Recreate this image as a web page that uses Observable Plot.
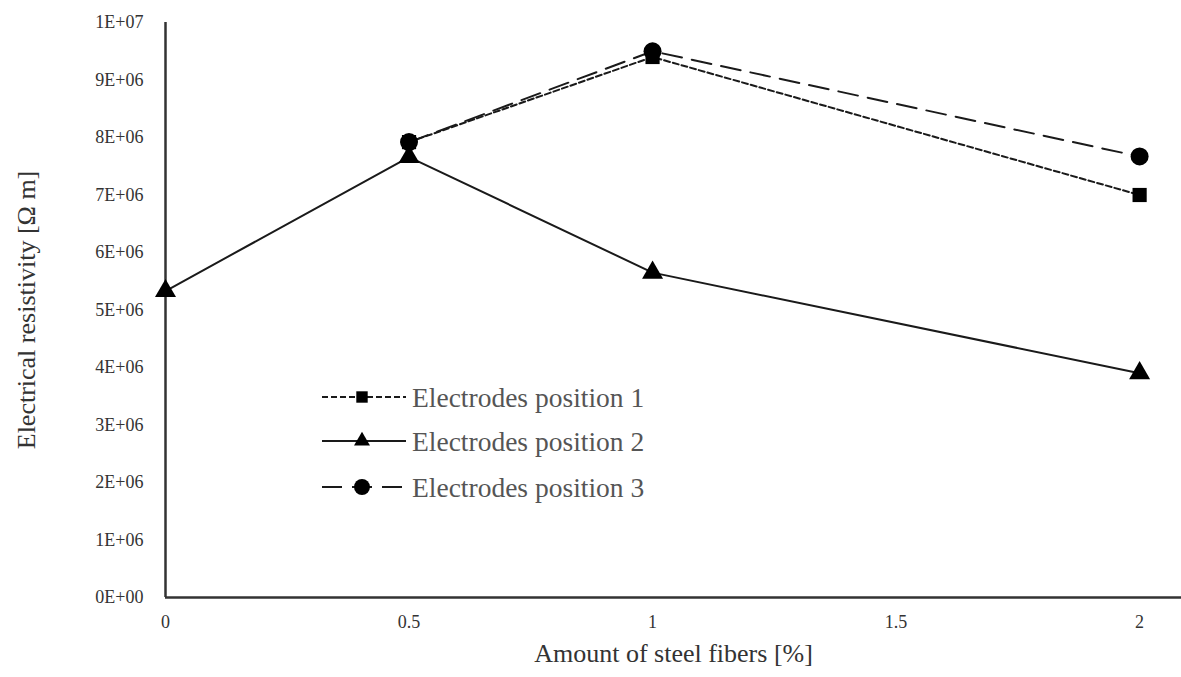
<!DOCTYPE html>
<html>
<head>
<meta charset="utf-8">
<script src="https://cdn.jsdelivr.net/npm/d3@7"></script>
<script src="https://cdn.jsdelivr.net/npm/@observablehq/plot@0.6"></script>
<style>
  html, body { margin: 0; padding: 0; background: #fff; }
  #chart { position: relative; width: 1181px; height: 677px; }
  #chart svg { font-family: "Liberation Serif", "Times New Roman", serif; }
</style>
</head>
<body>
<div id="chart"></div>
<script>
// ---- data ----
const seriesNames = ["Electrodes position 1", "Electrodes position 2", "Electrodes position 3"];
const fibers1 = [0.5, 1, 2];
const resist1 = [7.92e6, 9.4e6, 7.0e6];
const fibers2 = [0, 0.5, 1, 2];
const resist2 = [5.33e6, 7.66e6, 5.65e6, 3.9e6];
const fibers3 = [0.5, 1, 2];
const resist3 = [7.92e6, 9.5e6, 7.67e6];
const xTicks = [0, 0.5, 1, 1.5, 2];
const yTicks = [0, 1e6, 2e6, 3e6, 4e6, 5e6, 6e6, 7e6, 8e6, 9e6, 1e7];
const xTitle = "Amount of steel fibers [%]";
const yTitle = "Electrical resistivity [Ω m]";

const styles = [
  {dash: "6,3", symbol: "square", r: 8},
  {dash: null, symbol: "triangle", r: 7.8},
  {dash: "20,10", symbol: "circle", r: 9}
];

const mk = (xs, ys, s) => xs.map((x, i) => ({x, y: ys[i], s}));
const d1 = mk(fibers1, resist1, seriesNames[0]);
const d2 = mk(fibers2, resist2, seriesNames[1]);
const d3s = mk(fibers3, resist3, seriesNames[2]);

const fmtY = d => {
  if (d === 0) return "0E+00";
  const e = Math.floor(Math.log10(d) + 1e-9);
  const m = Math.round(d / Math.pow(10, e));
  return `${m}E+${String(e).padStart(2, "0")}`;
};
const fmtX = d => String(d);

const ink = "#1a1a1a";
const seriesMarks = (data, st) => [
  Plot.line(data, {x: "x", y: "y", stroke: ink, strokeWidth: 2, strokeDasharray: st.dash || undefined}),
  Plot.dot(data, {x: "x", y: "y", symbol: () => st.symbol, fill: "#000", stroke: "none", r: st.r})
];

const plot = Plot.plot({
  width: 1181,
  height: 677,
  marginLeft: 165,
  marginRight: 0,
  marginTop: 22,
  marginBottom: 80,
  style: {fontFamily: "Liberation Serif, Times New Roman, serif", background: "#fff", overflow: "visible"},
  x: {domain: [0, 2.086]},
  y: {domain: [0, 1e7]},
  symbol: {domain: ["square", "triangle", "circle"], range: ["square", "triangle", "circle"]},
  marks: [
    Plot.axisX(xTicks, {tickSize: 0, tickPadding: 18, fontSize: 18, fill: "#333", tickFormat: fmtX, label: null}),
    Plot.axisY(yTicks, {tickSize: 0, tickPadding: 22, fontSize: 18, fill: "#333", tickFormat: fmtY, label: null}),
    Plot.ruleY([0], {stroke: "#333", strokeWidth: 2.5}),
    Plot.ruleX([0], {stroke: "#333", strokeWidth: 2.5}),
    ...seriesMarks(d2, styles[1]),
    ...seriesMarks(d1, styles[0]),
    ...seriesMarks(d3s, styles[2]),
    Plot.text([xTitle], {frameAnchor: "bottom", textAnchor: "middle", dy: 64, fontSize: 26, fill: "#333", text: d => d}),
    Plot.text([yTitle], {frameAnchor: "left", textAnchor: "middle", dx: -139, rotate: -90, fontSize: 26, fill: "#333", text: d => d})
  ]
});
document.getElementById("chart").appendChild(plot);

// ---- legend (inside plot area) ----
const svg = d3.select(plot);
const lg = svg.append("g").attr("font-family", "Liberation Serif, Times New Roman, serif").attr("text-anchor", "start");
const legendRows = [0, 1, 2];
const rowY = [397, 441, 487];
const sym = {square: d3.symbolSquare, triangle: d3.symbolTriangle, circle: d3.symbolCircle};
legendRows.forEach(i => {
  const st = styles[i];
  const y = rowY[i];
  lg.append("line").attr("x1", 322).attr("x2", 406).attr("y1", y).attr("y2", y)
    .attr("stroke", ink).attr("stroke-width", 2)
    .attr("stroke-dasharray", st.dash || null);
  const size = {square: 130, triangle: 110, circle: 200}[st.symbol];
  lg.append("path").attr("d", d3.symbol(sym[st.symbol], size)())
    .attr("transform", `translate(362,${y})`).attr("fill", "#000");
  lg.append("text").attr("x", 412).attr("y", y).attr("dy", "0.35em")
    .attr("text-anchor", "start")
    .attr("font-size", 27.5).attr("fill", "#555").text(seriesNames[i]);
});
</script>
</body>
</html>
